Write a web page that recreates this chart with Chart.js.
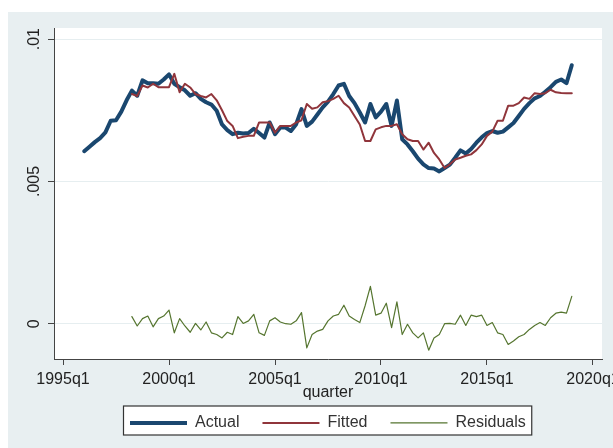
<!DOCTYPE html>
<html>
<head>
<meta charset="utf-8">
<script src="https://cdn.jsdelivr.net/npm/chart.js@4/dist/chart.umd.min.js"></script>
<style>
  html, body { margin: 0; padding: 0; background: #ffffff; }
  #wrap { width: 613px; height: 448px; position: relative; }
</style>
</head>
<body>
<div id="wrap"><canvas id="chart"></canvas></div>
<script>
// quarterly series
const actualFrom = '1996q1';
const fittedFrom = '1998q2';

const actual = [
  .00606, .00622, .00638, .00652, .00672, .00713, .00715, .00745, .00785, .00819,
  .00801, .00855, .00845, .00845, .00843, .00858, .00876, .00843, .00831, .00820,
  .00801, .00810, .00790, .00778, .00770, .00748, .00700, .00680, .00666, .00671,
  .00668, .00670, .00685, .00670, .00654, .00707, .00666, .00689, .00689, .00677,
  .00701, .00754, .00695, .00710, .00735, .00760, .00780, .00807, .00837, .00843,
  .00800, .00775, .00742, .00707, .00772, .00725, .00745, .00772, .00695, .00784,
  .00648, .00630, .00606, .00580, .00560, .00547, .00545, .00535, .00547, .00559,
  .00583, .00609, .00598, .00614, .00636, .00655, .00670, .00677, .00671, .00675,
  .00690, .00705, .00730, .00755, .00775, .00792, .00800, .00815, .00831, .00850,
  .00858, .00845, .00908
];

const fitted = [
  .00807, .00800, .00837, .00830, .00843, .00831, .00831, .00831, .00878, .00813,
  .00843, .00830, .00807, .00800, .00795, .00807, .00785, .00750, .00712, .00695,
  .00652, .00657, .00660, .00660, .00707, .00707, .00707, .00671, .00695, .00695,
  .00695, .00707, .00715, .00772, .00755, .00760, .00778, .00782, .00790, .00801,
  .00775, .00760, .00730, .00700, .00642, .00642, .00683, .00690, .00695, .00695,
  .00701, .00666, .00648, .00642, .00642, .00612, .00636, .00600, .00577, .00547,
  .00560, .00577, .00583, .00590, .00595, .00610, .00630, .00660, .00675, .00713,
  .00713, .00766, .00766, .00775, .00795, .00790, .00810, .00807, .00810, .00822,
  .00813, .00811, .00810, .00810
];

const residuals = [
  .00025, -.00008, .00018, .00027, -.00011, .00018, .00027, .00048, -.00032, .00018,
  -.00008, -.00030, .00001, -.00022, .00006, -.00032, -.00038, -.00050, -.00030, -.00038,
  .00025, .00001, .00010, .00033, -.00032, -.00041, .00010, .00021, .00006, .00000,
  -.00002, .00010, .00039, -.00085, -.00038, -.00026, -.00020, .00010, .00027, .00033,
  .00065, .00027, .00015, .00004, .00063, .00131, .00030, .00037, .00072, -.00014,
  .00077, -.00038, -.00002, -.00032, -.00050, -.00032, -.00093, -.00050, -.00038, .00000,
  .00001, -.00002, .00030, -.00006, .00030, .00025, .00030, -.00006, .00004, -.00032,
  -.00038, -.00073, -.00061, -.00046, -.00038, -.00020, -.00006, .00004, -.00006, .00021,
  .00037, .00041, .00037, .00096
];

const xTickLabels = ['1995q1', '2000q1', '2005q1', '2010q1', '2015q1', '2020q1'];
const yTickValues = [0, 0.005, 0.01];
const yTickLabels = ['0', '.005', '.01'];

// quarters counted from 1995q1
function qIndex(s) {
  const [y, q] = s.split('q').map(Number);
  return (y - 1995) * 4 + (q - 1);
}
function toPoints(from, vals) {
  const start = qIndex(from);
  return vals.map((v, i) => ({ x: start + i, y: v }));
}

const FONT = '"Liberation Sans", Arial, sans-serif';
const INK = '#222222';
const AXIS = '#444444';

const frame = {
  id: 'frame',
  beforeDraw(chart) {
    const { ctx, chartArea: a } = chart;
    ctx.save();
    ctx.fillStyle = '#ffffff';
    ctx.fillRect(0, 0, chart.width, chart.height);
    ctx.fillStyle = '#e8eff1';
    ctx.fillRect(8, 12, chart.width - 8, chart.height - 12);
    ctx.fillStyle = '#ffffff';
    ctx.fillRect(a.left, a.top, a.right - a.left, a.bottom - a.top);

    // put the legend row where the reference has it, with a boxed frame
    const lg = chart.legend;
    const pad = lg.options.labels.padding;
    const itemH = 19.2;
    const rowW = lg.lineWidths[0];
    const start = (lg.left + pad + lg.right - rowW) / 2;
    const shift = 130 - start;
    lg.left += shift;
    lg.right += shift;
    const mid = 420.5;
    lg.top = mid - pad - itemH / 2 + 4;
    const bx = 123.5, bw = (130 + rowW - pad + 6) - bx;
    ctx.fillStyle = '#ffffff';
    ctx.fillRect(bx, mid - 14.5, bw, 29);
    ctx.strokeStyle = '#333333';
    ctx.lineWidth = 1.2;
    ctx.strokeRect(bx, mid - 14.5, bw, 29);
    ctx.restore();
  }
};

new Chart(document.getElementById('chart'), {
  type: 'line',
  data: {
    datasets: [
      { label: 'Actual', data: toPoints(actualFrom, actual), borderColor: '#1a476f', borderWidth: 4, order: 3 },
      { label: 'Fitted', data: toPoints(fittedFrom, fitted), borderColor: '#90353b', borderWidth: 2, order: 2 },
      { label: 'Residuals', data: toPoints(fittedFrom, residuals), borderColor: '#55752f', borderWidth: 1.2, order: 1 }
    ]
  },
  options: {
    responsive: true,
    maintainAspectRatio: false,
    animation: false,
    events: [],
    elements: {
      point: { radius: 0 },
      line: { tension: 0, fill: false, borderJoinStyle: 'round', borderCapStyle: 'round' }
    },
    layout: { autoPadding: false, padding: { left: 8, top: 28, right: 11, bottom: 8 } },
    scales: {
      x: {
        type: 'linear',
        min: -1.7,
        max: 101.7,
        afterBuildTicks: s => { s.ticks = xTickLabels.map(l => ({ value: qIndex(l) })); },
        afterFit: s => { s.height = 32; s.paddingLeft = 0; s.paddingRight = 0; },
        ticks: {
          autoSkip: false,
          maxRotation: 0,
          padding: 5,
          color: INK,
          font: { family: FONT, size: 16 },
          callback: v => xTickLabels[xTickLabels.map(qIndex).indexOf(v)]
        },
        grid: { drawOnChartArea: false, tickLength: 6, tickColor: AXIS, tickWidth: 1 },
        border: { color: AXIS, width: 1 },
        title: {
          display: true,
          text: 'quarter',
          color: INK,
          font: { family: FONT, size: 16 },
          padding: { top: 0, bottom: -11 }
        }
      },
      y: {
        min: -0.00124,
        max: 0.01039,
        afterBuildTicks: s => { s.ticks = yTickValues.map(v => ({ value: v })); },
        afterFit: s => { s.width = 46; s.paddingTop = 0; s.paddingBottom = 0; },
        ticks: {
          minRotation: 90,
          maxRotation: 90,
          crossAlign: 'center',
          padding: -2,
          color: INK,
          font: { family: FONT, size: 16 },
          callback: v => yTickLabels[yTickValues.indexOf(v)]
        },
        grid: { color: '#e6eef0', lineWidth: 1, tickLength: 6, tickColor: AXIS, tickWidth: 1 },
        border: { color: AXIS, width: 1 }
      }
    },
    plugins: {
      legend: {
        position: 'bottom',
        labels: {
          usePointStyle: true,
          pointStyle: 'line',
          pointStyleWidth: 57,
          boxHeight: 16,
          padding: 23,
          color: '#333333',
          font: { family: FONT, size: 16 },
          sort: (a, b) => a.datasetIndex - b.datasetIndex
        }
      },
      tooltip: { enabled: false }
    }
  },
  plugins: [frame]
});
</script>
</body>
</html>
